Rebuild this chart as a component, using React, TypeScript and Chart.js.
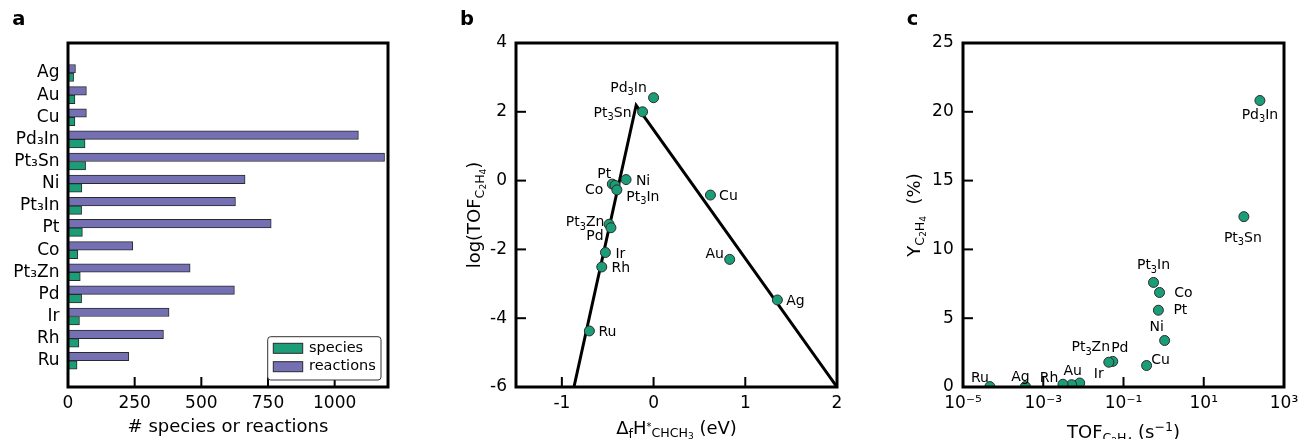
import React, { useEffect, useRef } from 'react';
import { Chart, registerables } from 'chart.js';

Chart.register(...registerables);

const FONT = "'DejaVu Sans', 'Liberation Sans', sans-serif";
const GREEN = '#1b9e77';
const PURPLE = '#7570b3';
const EDGE = '#2a2a2a';

// ---------- Panel a data ----------
const catalysts = ['Ag', 'Au', 'Cu', 'Pd3In', 'Pt3Sn', 'Ni', 'Pt3In', 'Pt', 'Co', 'Pt3Zn', 'Pd', 'Ir', 'Rh', 'Ru'];
const speciesCounts = [21, 26, 26, 64, 66, 52, 51, 54, 37, 46, 51, 43, 41, 34];
const reactionCounts = [28, 69, 69, 1089, 1187, 664, 628, 762, 243, 458, 624, 379, 358, 228];
const countTicks = [0, 250, 500, 750, 1000];

// ---------- Panel b data ----------
const volcanoNames = ['Pd3In', 'Pt3Sn', 'Ni', 'Pt', 'Co', 'Pt3In', 'Pt3Zn', 'Pd', 'Ir', 'Rh', 'Ru', 'Au', 'Ag', 'Cu'];
const dHValues = [0.0, -0.12, -0.3, -0.45, -0.42, -0.4, -0.485, -0.465, -0.525, -0.565, -0.7, 0.83, 1.35, 0.62];
const logTofValues = [2.41, 2.0, 0.03, -0.1, -0.14, -0.27, -1.27, -1.37, -2.09, -2.51, -4.37, -2.29, -3.47, -0.42];
const volcanoLineX = [-0.868, -0.19, 2.0];
const volcanoLineY = [-6, 2.19, -6];
const dHTicks = [-1, 0, 1, 2];
const logTofTicks = [-6, -4, -2, 0, 2, 4];

// ---------- Panel c data ----------
const yieldNames = ['Pd3In', 'Pt3Sn', 'Pt3In', 'Co', 'Pt', 'Ni', 'Cu', 'Pt3Zn', 'Pd', 'Ir', 'Au', 'Rh', 'Ag', 'Ru'];
const tofValues = [251, 100, 0.56, 0.79, 0.74, 1.06, 0.376, 0.054, 0.043, 0.0081, 0.0051, 0.0031, 0.00036, 0.0000468];
const yieldValues = [20.82, 12.38, 7.6, 6.87, 5.58, 3.38, 1.56, 1.86, 1.8, 0.29, 0.17, 0.2, 0.03, 0.03];
const tofTicks = [1e-5, 1e-3, 1e-1, 1e1, 1e3];
const tofTickLabels = ['10⁻⁵', '10⁻³', '10⁻¹', '10¹', '10³'];
const yieldTicks = [0, 5, 10, 15, 20, 25];

// ---------- label offsets (style, pixels) ----------
const volcanoLabelOffsets: [number, number][] = [
  [-25, -11], [-30, 0], [17, 0], [-8, -11], [-21, 4], [26, 6], [-24, -3], [-16, 7],
  [15, 0], [19, 0], [18, 0], [-15, -6], [18, 0], [18, 0],
];
const yieldLabelOffsets: [number, number][] = [
  [0, 13], [-1, 20], [0, -18], [24, -1], [22, -1], [-8, -15], [14, -7], [-22, -15], [11, -15],
  [19, -10], [1, -15], [-14, -7], [-5, -11], [-10, -10],
];

// ---------- rich text ----------
type Seg = { t: string; s: number; dy: number };
const N = (t: string): Seg => ({ t, s: 1, dy: 0 });
const SB = (t: string): Seg => ({ t, s: 0.7, dy: 0.22 });
const SS = (t: string): Seg => ({ t, s: 0.5, dy: 0.32 });
const SP = (t: string): Seg => ({ t, s: 0.7, dy: -0.4 });

function chem(name: string): Seg[] {
  return (name.match(/\d+|\D+/g) || []).map((p) => (/\d/.test(p) ? { t: p, s: 0.7, dy: 0.25 } : N(p)));
}
const SUBS = '₀₁₂₃₄₅₆₇₈₉';
const uniChem = (name: string) => name.replace(/\d/g, (d) => SUBS[Number(d)]);

function drawRich(
  ctx: CanvasRenderingContext2D,
  segs: Seg[],
  x: number,
  y: number,
  size: number,
  align: 'center' | 'left' = 'center',
  rotate = false,
  bold = false,
) {
  ctx.save();
  ctx.translate(x, y);
  if (rotate) ctx.rotate(-Math.PI / 2);
  const fontOf = (s: number) => `${bold ? 'bold ' : ''}${(size * s).toFixed(2)}px ${FONT}`;
  let total = 0;
  const widths = segs.map((sg) => {
    ctx.font = fontOf(sg.s);
    const w = ctx.measureText(sg.t).width;
    total += w;
    return w;
  });
  let cx = align === 'center' ? -total / 2 : 0;
  ctx.textAlign = 'left';
  ctx.textBaseline = 'alphabetic';
  ctx.fillStyle = '#000';
  segs.forEach((sg, i) => {
    ctx.font = fontOf(sg.s);
    ctx.fillText(sg.t, cx, sg.dy * size);
    cx += widths[i];
  });
  ctx.restore();
}

// ---------- helpers ----------
function axisOpts(
  horizontal: boolean,
  type: string,
  min: number,
  max: number,
  ticks: number[],
  label: (v: number) => string,
  size: number,
  padding: number,
) {
  return {
    type,
    position: horizontal ? 'bottom' : 'left',
    min,
    max,
    bounds: 'data',
    grid: { display: false, drawTicks: false },
    border: { display: false },
    ticks: {
      font: { family: FONT, size: 17 },
      color: '#000',
      padding,
      autoSkip: false,
      maxRotation: 0,
      minRotation: 0,
      callback: (v: any) => label(Number(v)),
    },
    afterBuildTicks: (sc: any) => {
      sc.ticks = ticks.map((v) => ({ value: v }));
    },
    afterFit: (sc: any) => {
      if (horizontal) sc.height = size;
      else sc.width = size;
      sc.paddingLeft = 0;
      sc.paddingRight = 0;
      sc.paddingTop = 0;
      sc.paddingBottom = 0;
    },
  };
}

const framePlugin = {
  id: 'frame',
  afterDatasetsDraw(chart: any) {
    const { ctx, chartArea: a } = chart;
    ctx.save();
    ctx.strokeStyle = '#000';
    ctx.lineWidth = 3;
    ctx.strokeRect(a.left, a.top, a.right - a.left, a.bottom - a.top);
    ctx.restore();
  },
};

function inTicksPlugin(ids: string[]) {
  return {
    id: 'inticks',
    afterDatasetsDraw(chart: any) {
      const { ctx, chartArea: a } = chart;
      ctx.save();
      ctx.strokeStyle = '#000';
      ctx.lineWidth = 2;
      ids.forEach((id) => {
        const sc = chart.scales[id];
        sc.ticks.forEach((t: any) => {
          const p = sc.getPixelForValue(t.value);
          ctx.beginPath();
          if (sc.isHorizontal()) {
            if (p < a.left + 3 || p > a.right - 3) return;
            ctx.moveTo(p, a.bottom);
            ctx.lineTo(p, a.bottom - 10);
          } else {
            if (p < a.top + 3 || p > a.bottom - 3) return;
            ctx.moveTo(a.left, p);
            ctx.lineTo(a.left + 10, p);
          }
          ctx.stroke();
        });
      });
      ctx.restore();
    },
  };
}

function annotPlugin(dsIndex: number, names: string[], offsets: [number, number][]) {
  return {
    id: 'annot',
    afterDatasetsDraw(chart: any) {
      const ctx = chart.ctx;
      const meta = chart.getDatasetMeta(dsIndex);
      meta.data.forEach((el: any, i: number) => {
        const [dx, dy] = offsets[i];
        drawRich(ctx, chem(names[i]), el.x + dx, el.y + dy + 0.36 * 14, 14, 'center');
      });
    },
  };
}

function textPlugin(draw: (ctx: CanvasRenderingContext2D, a: any) => void) {
  return {
    id: 'texts',
    afterDraw(chart: any) {
      draw(chart.ctx, chart.chartArea);
    },
  };
}

const baseOptions = (padding: any) => ({
  responsive: false,
  maintainAspectRatio: false,
  animation: false,
  devicePixelRatio: 1,
  events: [],
  layout: { padding, autoPadding: false },
  plugins: { legend: { display: false }, tooltip: { enabled: false } },
});

// ---------- panel a ----------
function buildA(): any {
  return {
    type: 'bar',
    data: {
      datasets: [
        {
          label: 'reactions',
          data: reactionCounts.map((v, i) => ({ x: v, y: i })),
          backgroundColor: PURPLE,
          borderColor: EDGE,
          borderWidth: 1,
          borderSkipped: false,
          barThickness: 8.5,
        },
        {
          label: 'species',
          data: speciesCounts.map((v, i) => ({ x: v, y: i })),
          backgroundColor: GREEN,
          borderColor: EDGE,
          borderWidth: 1,
          borderSkipped: false,
          barThickness: 8.5,
        },
      ],
    },
    options: {
      ...baseOptions({ left: 0, top: 43, right: 52, bottom: 0 }),
      indexAxis: 'y',
      scales: {
        x: axisOpts(true, 'linear', 0, 1200, countTicks, (v) => String(v), 52, 6),
        y: {
          ...axisOpts(false, 'linear', -0.8, 13.63, catalysts.map((_, i) => i), (v) => uniChem(catalysts[v] || ''), 68, 8.5),
          reverse: true,
        },
      },
    },
    plugins: [
      framePlugin,
      inTicksPlugin(['x']),
      textPlugin((ctx, a) => {
        drawRich(ctx, [N('# species or reactions')], (a.left + a.right) / 2, 431.5, 18);
        drawRich(ctx, [N('a')], 12.3, 25, 19.5, 'left', false, true);
        // legend
        ctx.save();
        const lx = 267.7, ly = 336.7, lw = 113.3, lh = 43.3, r = 3;
        ctx.beginPath();
        ctx.moveTo(lx + r, ly);
        ctx.arcTo(lx + lw, ly, lx + lw, ly + lh, r);
        ctx.arcTo(lx + lw, ly + lh, lx, ly + lh, r);
        ctx.arcTo(lx, ly + lh, lx, ly, r);
        ctx.arcTo(lx, ly, lx + lw, ly, r);
        ctx.closePath();
        ctx.fillStyle = '#fff';
        ctx.fill();
        ctx.strokeStyle = '#333';
        ctx.lineWidth = 1;
        ctx.stroke();
        const items: [string, string, number][] = [
          ['species', GREEN, 343.3],
          ['reactions', PURPLE, 361.7],
        ];
        items.forEach(([txt, col, y]) => {
          ctx.fillStyle = col;
          ctx.fillRect(273.3, y, 29.4, 10);
          ctx.strokeStyle = EDGE;
          ctx.strokeRect(273.3, y, 29.4, 10);
          ctx.fillStyle = '#000';
          ctx.font = `14.5px ${FONT}`;
          ctx.textAlign = 'left';
          ctx.textBaseline = 'middle';
          ctx.fillText(txt, 309, y + 5);
        });
        ctx.restore();
      }),
    ],
  };
}

// ---------- panel b ----------
function buildB(): any {
  return {
    type: 'scatter',
    data: {
      datasets: [
        {
          label: 'catalysts',
          data: dHValues.map((x, i) => ({ x, y: logTofValues[i] })),
          backgroundColor: GREEN,
          borderColor: EDGE,
          borderWidth: 1,
          pointRadius: 5,
          order: 0,
          clip: 0,
        },
        {
          label: 'volcano',
          data: volcanoLineX.map((x, i) => ({ x, y: volcanoLineY[i] })),
          showLine: true,
          borderColor: '#000',
          borderWidth: 3,
          pointRadius: 0,
          fill: false,
          order: 1,
          clip: 0,
        },
      ],
    },
    options: {
      ...baseOptions({ left: 0, top: 43, right: 440 - 397, bottom: 0 }),
      scales: {
        x: axisOpts(true, 'linear', -1.5, 2, dHTicks, (v) => String(v), 52, 6),
        y: axisOpts(false, 'linear', -6, 4, logTofTicks, (v) => String(v), 76, 9),
      },
    },
    plugins: [
      inTicksPlugin(['x', 'y']),
      annotPlugin(0, volcanoNames, volcanoLabelOffsets),
      framePlugin,
      textPlugin((ctx, a) => {
        drawRich(
          ctx,
          [N('Δ'), { t: 'f', s: 0.7, dy: 0.22 }, N('H'), { t: '*', s: 0.55, dy: -0.2 }, { t: 'CHCH', s: 0.7, dy: 0.15 }, { t: '3', s: 0.5, dy: 0.25 }, N(' (eV)')],
          (a.left + a.right) / 2,
          434,
          18,
        );
        drawRich(ctx, [N('log(TOF'), SB('C'), SS('2'), SB('H'), SS('4'), N(')')], 40, (a.top + a.bottom) / 2, 18, 'center', true);
        drawRich(ctx, [N('b')], 20, 25, 19.5, 'left', false, true);
      }),
    ],
  };
}

// ---------- panel c ----------
function buildC(): any {
  return {
    type: 'scatter',
    data: {
      datasets: [
        {
          label: 'yield',
          data: tofValues.map((x, i) => ({ x, y: yieldValues[i] })),
          backgroundColor: GREEN,
          borderColor: EDGE,
          borderWidth: 1,
          pointRadius: 5,
          clip: 0,
        },
      ],
    },
    options: {
      ...baseOptions({ left: 0, top: 43, right: 419 - 404, bottom: 0 }),
      scales: {
        x: axisOpts(true, 'logarithmic', 1e-5, 1e3, tofTicks, (v) => {
          const i = tofTicks.findIndex((t) => Math.abs(Math.log10(t) - Math.log10(v)) < 1e-6);
          return i >= 0 ? tofTickLabels[i] : '';
        }, 52, 6),
        y: axisOpts(false, 'linear', 0, 25, yieldTicks, (v) => String(v), 83, 9.3),
      },
    },
    plugins: [
      inTicksPlugin(['x', 'y']),
      annotPlugin(0, yieldNames, yieldLabelOffsets),
      framePlugin,
      textPlugin((ctx, a) => {
        drawRich(ctx, [N('TOF'), SB('C'), SS('2'), SB('H'), SS('4'), N(' (s'), SP('−1'), N(')')], (a.left + a.right) / 2, 438, 18);
        drawRich(ctx, [N('Y'), SB('C'), SS('2'), SB('H'), SS('4'), N('  (%)')], 40.3, (a.top + a.bottom) / 2, 18, 'center', true);
        drawRich(ctx, [N('c')], 26.7, 25, 19.5, 'left', false, true);
      }),
    ],
  };
}

function Panel({ left, width, build }: { left: number; width: number; build: () => any }) {
  const ref = useRef<HTMLCanvasElement>(null);
  useEffect(() => {
    const chart = new Chart(ref.current as HTMLCanvasElement, build());
    return () => chart.destroy();
  }, []);
  return (
    <canvas
      ref={ref}
      width={width}
      height={439}
      style={{ position: 'absolute', left, top: 0, width, height: 439, display: 'block' }}
    />
  );
}

export default function App() {
  return (
    <div style={{ position: 'absolute', left: 0, top: 0, width: 1299, height: 439, background: '#fff', overflow: 'hidden' }}>
      <Panel left={0} width={440} build={buildA} />
      <Panel left={440} width={440} build={buildB} />
      <Panel left={880} width={419} build={buildC} />
    </div>
  );
}
